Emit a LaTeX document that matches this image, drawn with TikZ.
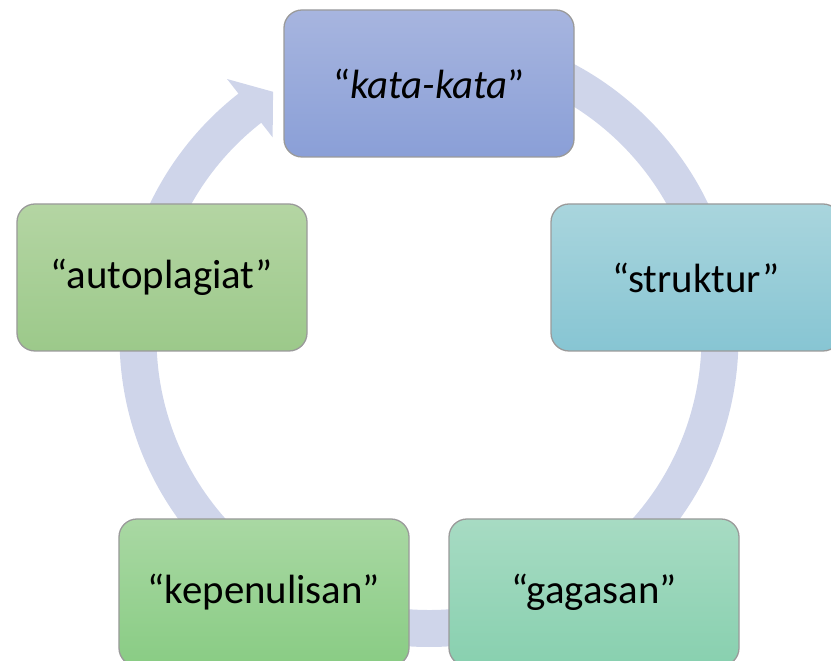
\documentclass[tikz,border=0pt]{standalone}
\usepackage{fontspec}
\setmainfont{Carlito}
\definecolor{ringc}{HTML}{CFD5EA}
\definecolor{kataT}{HTML}{A7B5DF}
\definecolor{kataB}{HTML}{8A9FD7}
\definecolor{strT}{HTML}{A9D5DD}
\definecolor{strB}{HTML}{87C5D3}
\definecolor{gagT}{HTML}{A7DBC3}
\definecolor{gagB}{HTML}{88D0AF}
\definecolor{kepT}{HTML}{A9D8A3}
\definecolor{kepB}{HTML}{89CC84}
\definecolor{autT}{HTML}{B4D5A3}
\definecolor{autB}{HTML}{9CC98A}
\definecolor{edgec}{HTML}{9A9A9A}
\tikzset{
  cyclebox/.style={rectangle, rounded corners=18bp, minimum width=290bp, minimum height=147bp,
    draw=edgec, line width=1.3bp, font=\fontsize{41}{48}\selectfont, text=black, inner sep=0pt},
}
\begin{document}
\begin{tikzpicture}[x=1bp,y=1bp]
\useasboundingbox (0,0) rectangle (831,661);
\clip (0,0) rectangle (831,661);
% cycle arrow ring
\begin{scope}[shift={(429,323.5)}]
\fill[ringc] (90:309.5bp) arc[start angle=90, end angle=-232, radius=309.5bp]
  -- (-232:328bp) -- (-237.6:291bp) -- (-232:254bp) -- (-232:272.5bp)
  arc[start angle=-232, end angle=90, radius=272.5bp] -- cycle;
\end{scope}
% boxes
\node[cyclebox, top color=kataT, bottom color=kataB] (kata) at (429,577.5) {“\textit{kata-kata}”};
\node[cyclebox, top color=strT, bottom color=strB] (struktur) at (696,383.5) {“struktur”};
\node[cyclebox, top color=gagT, bottom color=gagB] (gagasan) at (594,68.5) {“gagasan”};
\node[cyclebox, top color=kepT, bottom color=kepB] (kepenulisan) at (264,68.5) {“kepenulisan”};
\node[cyclebox, top color=autT, bottom color=autB] (autoplagiat) at (162,383.5) {“autoplagiat”};
\end{tikzpicture}
\end{document}
